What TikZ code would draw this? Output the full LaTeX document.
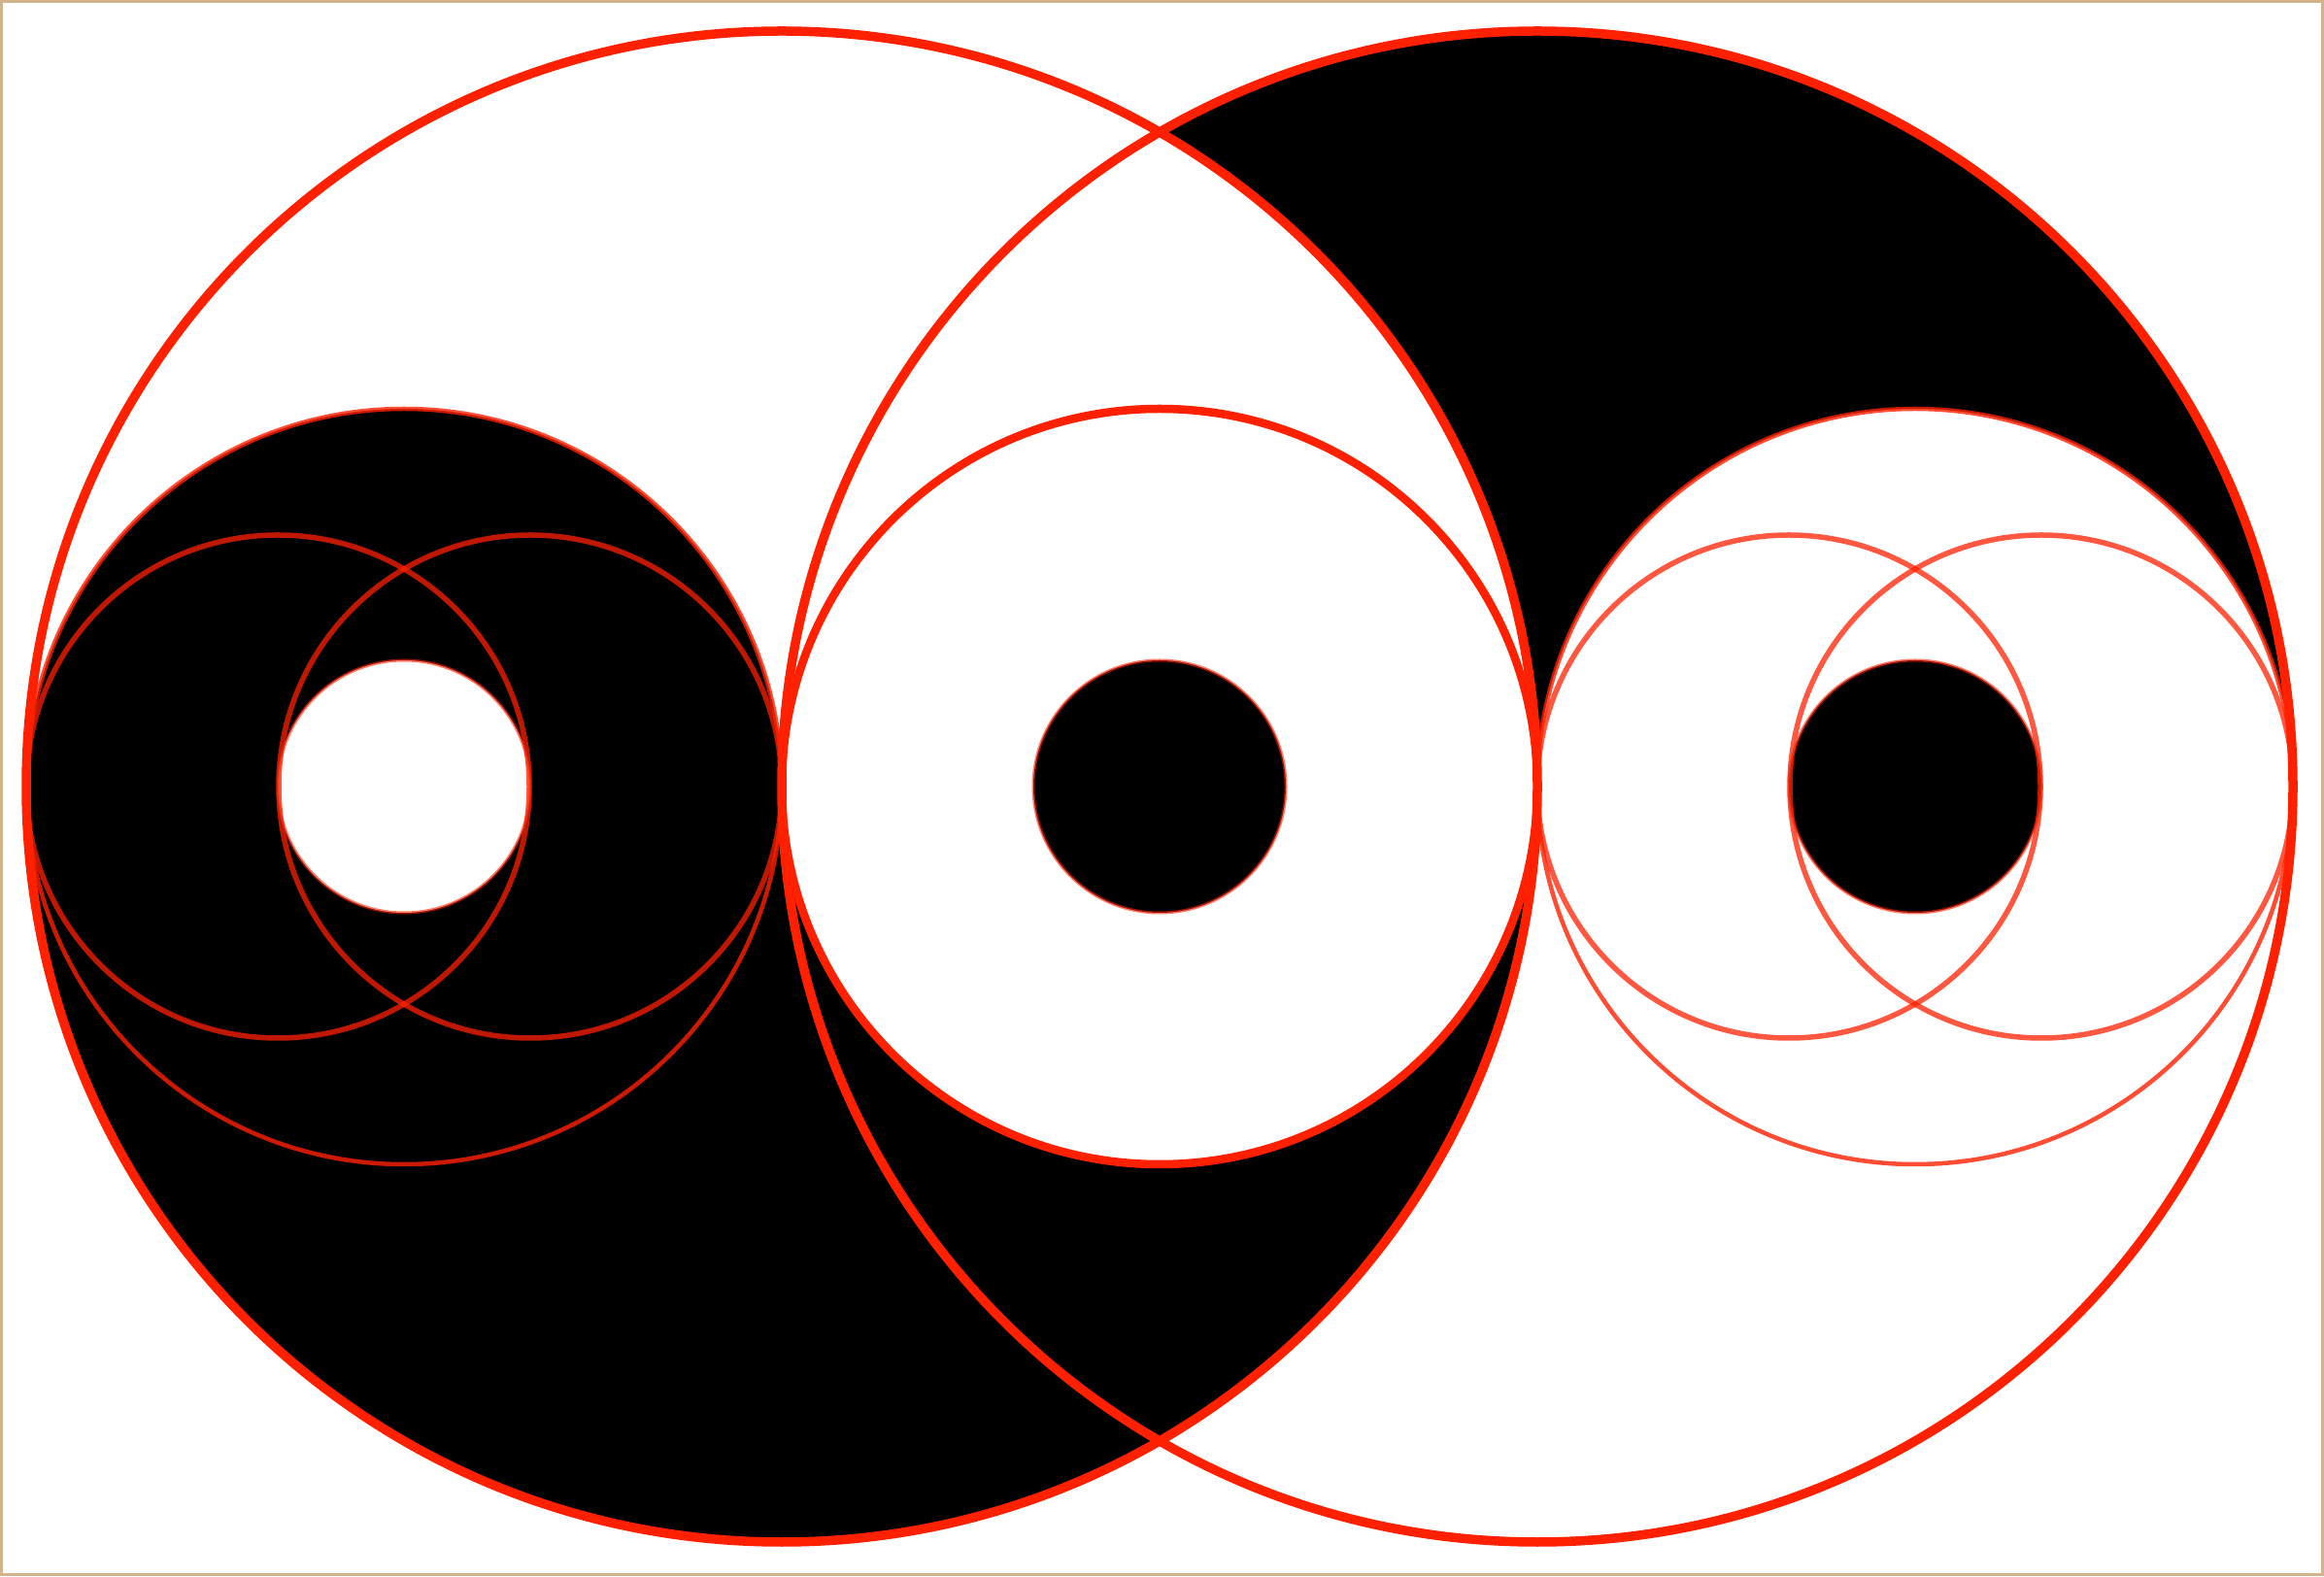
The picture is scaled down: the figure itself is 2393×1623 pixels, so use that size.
\documentclass[tikz,border=0pt]{standalone}
\begin{document}
\begin{tikzpicture}[x=0.1mm,y=0.1mm,
  redline/.style={draw={rgb,255:red,255;green,32;blue,0}},
  bigring/.style={redline, line width=0.95mm},
  midring/.style={redline, line width=0.85mm},
  thinring/.style={redline, line width=0.55mm, draw opacity=0.75},
  sidering/.style={redline, line width=0.45mm, draw opacity=0.8},
  dotring/.style={redline, line width=0.3mm, draw opacity=0.6}]
\useasboundingbox (0,0) rectangle (2393,1623);
\fill[white] (0,0) rectangle (2393,1623);
\draw[line width=0.3mm,draw={rgb,255:red,210;green,180;blue,140}] (1.5,1.5) rectangle (2391.5,1621.5);
% centres
\coordinate (cL) at (805,813);
\coordinate (cR) at (1583,813);
\coordinate (mL) at (416,813);
\coordinate (mC) at (1194,813);
\coordinate (mR) at (1972,813);
% right yin-yang
\fill[white] (cR) circle[radius=778];
\fill[black] (805,813) arc[start angle=180,end angle=0,radius=778] -- cycle;
\fill[white] (mR) circle[radius=389];
\fill[black] (mR) circle[radius=130];
% left yin-yang (on top)
\fill[white] (cL) circle[radius=778];
\fill[black] (27,813) arc[start angle=180,end angle=360,radius=778] -- cycle;
\fill[black] (mL) circle[radius=389];
\fill[white] (mC) circle[radius=389];
\fill[white] (mL) circle[radius=130];
\fill[black] (mC) circle[radius=130];
% outlines
\draw[dotring] (mL) circle[radius=130];
\draw[dotring] (mC) circle[radius=130];
\draw[dotring] (mR) circle[radius=130];
\draw[thinring] (286,813) circle[radius=259];
\draw[thinring] (546,813) circle[radius=259];
\draw[thinring] (1842,813) circle[radius=259];
\draw[thinring] (2102,813) circle[radius=259];
\draw[sidering] (mL) circle[radius=389];
\draw[sidering] (mR) circle[radius=389];
\draw[midring] (mC) circle[radius=389];
\draw[bigring] (cL) circle[radius=778];
\draw[bigring] (cR) circle[radius=778];
\end{tikzpicture}
\end{document}
